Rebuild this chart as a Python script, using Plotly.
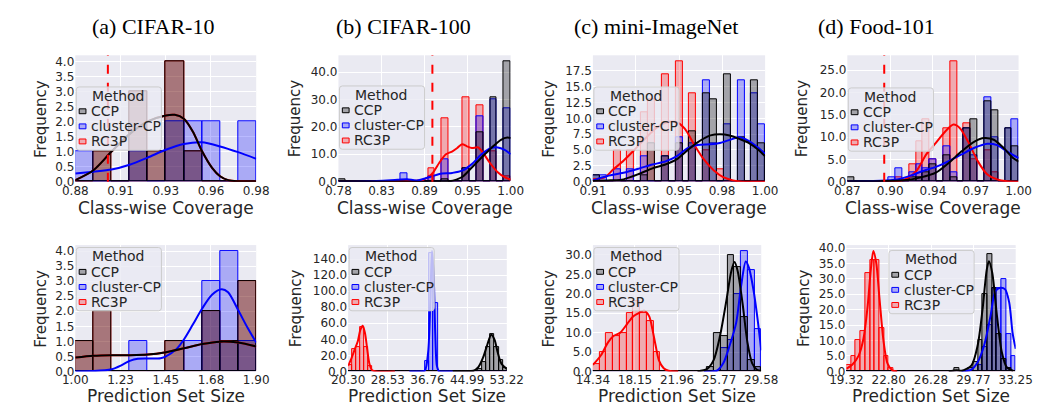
import numpy as np
import plotly.graph_objects as go

W, H = 1045, 411
METHODS = ["CCP", "cluster-CP", "RC3P"]
LINE = {"CCP": "#000000", "cluster-CP": "#0000ff", "RC3P": "#ff0000"}
FILL = {"CCP": "rgba(0,0,0,0.3)", "cluster-CP": "rgba(0,0,255,0.27)", "RC3P": "rgba(255,0,0,0.27)"}

panel_titles = ["(a) CIFAR-10", "(b) CIFAR-100", "(c) mini-ImageNet", "(d) Food-101"]

# ---------------- top row: class-wise coverage ----------------
cov_a_range = [0.88, 0.98]
cov_a_ticks = ["0.88", "0.91", "0.93", "0.96", "0.98"]
cov_a_ccp = [0, 1, 0, 3, 1, 4, 1, 0, 0, 0]
cov_a_clu = [1, 0, 0, 1, 0, 2, 2, 2, 0, 2]
cov_a_rc3p = [0, 1, 0, 3, 1, 4, 1, 0, 0, 0]
cov_a_kde_ccp_x = [0.880, 0.890, 0.900, 0.910, 0.920, 0.930, 0.935, 0.940, 0.945, 0.950, 0.9556, 0.960, 0.9645, 0.970, 0.975, 0.980]
cov_a_kde_ccp_y = [0.05, 0.38, 1.0, 1.58, 2.0, 2.2, 2.22, 2.09, 1.66, 1.02, 0.46, 0.18, 0.05, 0.01, 0.0, 0.0]
cov_a_kde_clu_x = [0.880, 0.890, 0.900, 0.910, 0.920, 0.930, 0.940, 0.950, 0.960, 0.970, 0.980]
cov_a_kde_clu_y = [0.27, 0.33, 0.40, 0.56, 0.80, 1.06, 1.25, 1.31, 1.17, 0.98, 0.76]
cov_a_kde_rc3p_x = cov_a_kde_ccp_x
cov_a_kde_rc3p_y = cov_a_kde_ccp_y
cov_a_target = 0.898

cov_b_range = [0.78, 1.00]
cov_b_ticks = ["0.78", "0.83", "0.89", "0.95", "1.00"]
cov_b_ccp = [1, 0, 0, 0, 0, 0, 0, 0, 0, 0, 0, 0, 0, 0, 0, 1, 0, 0, 5, 0, 18, 0, 31, 0, 44]
cov_b_clu = [0, 0, 0, 0, 0, 0, 0, 0, 0, 3, 0, 0, 0, 2, 0, 8, 0, 0, 5, 0, 24, 0, 30, 0, 27]
cov_b_rc3p = [0, 0, 0, 0, 0, 0, 0, 0, 0, 0, 0, 0, 0, 5, 0, 23, 0, 0, 31, 0, 28, 0, 11, 0, 2]
cov_b_kde_rc3p_x = [0.780, 0.818, 0.8594, 0.8677, 0.8883, 0.8995, 0.9090, 0.9173, 0.9256, 0.9318, 0.9380, 0.9442, 0.9504, 0.9587, 0.9648, 0.9731, 0.9835, 0.9917, 1.000]
cov_b_kde_rc3p_y = [0.0, 0.0, 0.05, 0.1, 0.7, 2.8, 7.0, 10.0, 11.1, 12.3, 13.7, 12.9, 12.3, 12.5, 10.5, 7.0, 3.4, 1.7, 0.7]
cov_b_kde_clu_x = [0.780, 0.818, 0.8553, 0.8677, 0.8801, 0.8966, 0.9090, 0.9256, 0.9380, 0.9504, 0.9628, 0.9752, 0.9835, 0.9917, 1.000]
cov_b_kde_clu_y = [0.0, 0.1, 0.7, 0.9, 0.4, 1.7, 2.8, 3.2, 4.0, 6.4, 10.0, 12.3, 12.5, 11.7, 10.0]
cov_b_kde_ccp_x = [0.780, 0.8594, 0.9214, 0.9380, 0.9504, 0.9628, 0.9752, 0.9876, 0.9959, 1.000]
cov_b_kde_ccp_y = [0.1, 0.0, 0.1, 1.7, 5.2, 8.8, 12.3, 15.3, 16.1, 15.9]
cov_b_target = 0.900

cov_c_range = [0.91, 1.00]
cov_c_ticks = ["0.91", "0.93", "0.95", "0.98", "1.00"]
cov_c_ccp = [1, 0, 0, 0, 0, 0, 0, 1, 6, 0, 4, 0, 6, 0, 8, 0, 14, 13, 0, 17, 0, 7, 0, 16, 6]
cov_c_clu = [1, 1, 0, 2, 0, 2, 0, 4, 0, 0, 4, 0, 7, 0, 6, 0, 16, 6, 0, 9, 0, 16, 0, 14, 9]
cov_c_rc3p = [0, 0, 0, 5, 0, 5, 0, 11, 13, 0, 17, 0, 19, 0, 14, 0, 5, 0, 2, 0, 0, 0, 0, 0, 0]
cov_c_kde_rc3p_x = [0.910, 0.9159, 0.9206, 0.9260, 0.9310, 0.9361, 0.9420, 0.9479, 0.9532, 0.9579, 0.9630, 0.9680, 0.9731, 0.9781, 0.9832, 0.9882, 1.000]
cov_c_kde_rc3p_y = [0.36, 0.62, 1.9, 3.3, 4.8, 6.4, 8.2, 9.3, 9.45, 8.4, 5.8, 3.5, 1.8, 0.7, 0.2, 0.0, 0.0]
cov_c_kde_ccp_x = [0.910, 0.9193, 0.9260, 0.9344, 0.9411, 0.9479, 0.9537, 0.9596, 0.9647, 0.9714, 0.9764, 0.9815, 0.9866, 0.9916, 0.9966, 1.000]
cov_c_kde_ccp_y = [0.1, 0.2, 0.36, 1.25, 2.1, 2.7, 3.5, 5.0, 6.2, 7.3, 7.5, 7.3, 6.75, 6.1, 5.0, 4.0]
cov_c_kde_clu_x = [0.910, 0.9176, 0.9260, 0.9344, 0.9411, 0.9479, 0.9537, 0.9596, 0.9647, 0.9714, 0.9764, 0.9815, 0.9866, 0.9916, 0.9966, 1.000]
cov_c_kde_clu_y = [0.2, 0.9, 1.4, 2.1, 2.7, 3.2, 4.0, 5.3, 5.8, 5.9, 6.1, 6.6, 7.0, 6.4, 5.3, 4.4]
cov_c_target = None

cov_d_range = [0.87, 1.00]
cov_d_ticks = ["0.87", "0.90", "0.94", "0.97", "1.00"]
cov_d_ccp = [1, 0, 0, 0, 0, 0, 0, 0, 0, 1, 1, 2, 4, 0, 6, 1, 0, 12, 14, 0, 18, 16, 0, 12, 8]
cov_d_clu = [0, 0, 0, 0, 0, 0, 1, 3, 0, 2, 4, 3, 5, 0, 8, 2, 0, 12, 6, 0, 19, 10, 0, 12, 14]
cov_d_rc3p = [0, 0, 0, 0, 0, 0, 0, 1, 0, 4, 9, 14, 5, 0, 12, 27, 0, 13, 5, 0, 7, 2, 0, 0, 0]
cov_d_kde_rc3p_x = [0.870, 0.9079, 0.9152, 0.9225, 0.9299, 0.9372, 0.9445, 0.9506, 0.9555, 0.9616, 0.9690, 0.9763, 0.9836, 0.9910, 1.000]
cov_d_kde_rc3p_y = [0.0, 0.07, 0.7, 2.4, 6.1, 8.7, 11.3, 12.8, 12.0, 9.0, 4.6, 1.6, 0.5, 0.07, 0.0]
cov_d_kde_ccp_x = [0.870, 0.9128, 0.9250, 0.9372, 0.9470, 0.9567, 0.9665, 0.9738, 0.9812, 0.9885, 0.9958, 1.000]
cov_d_kde_ccp_y = [0.05, 0.3, 0.9, 2.0, 4.2, 6.8, 9.0, 9.8, 9.4, 7.6, 5.3, 4.5]
cov_d_kde_clu_x = [0.870, 0.9079, 0.9176, 0.9274, 0.9372, 0.9470, 0.9567, 0.9665, 0.9763, 0.9836, 0.9910, 1.000]
cov_d_kde_clu_y = [0.0, 0.5, 1.3, 2.4, 3.3, 4.6, 6.1, 7.6, 8.5, 8.2, 6.8, 5.3]
cov_d_target = 0.898

# ---------------- bottom row: prediction set size ----------------
size_a_range = [1.00, 1.90]
size_a_ticks = ["1.00", "1.23", "1.45", "1.68", "1.90"]
size_a_ccp = [1, 2, 0, 0, 0, 1, 0, 2, 1, 3]
size_a_clu = [0, 0, 0, 1, 0, 0, 1, 3, 4, 1]
size_a_rc3p = [1, 2, 0, 0, 0, 1, 0, 2, 1, 3]
size_a_kde_ccp_x = [1.000, 1.090, 1.180, 1.271, 1.361, 1.451, 1.541, 1.631, 1.720, 1.810, 1.900]
size_a_kde_ccp_y = [0.46, 0.52, 0.54, 0.54, 0.56, 0.64, 0.77, 0.91, 0.99, 0.96, 0.83]
size_a_kde_clu_x = [1.000, 1.090, 1.180, 1.231, 1.271, 1.311, 1.361, 1.424, 1.451, 1.504, 1.541, 1.584, 1.631, 1.680, 1.728, 1.760, 1.810, 1.857, 1.900]
size_a_kde_clu_y = [0.0, 0.01, 0.07, 0.21, 0.35, 0.42, 0.43, 0.44, 0.50, 0.75, 1.07, 1.55, 2.09, 2.55, 2.73, 2.63, 2.04, 1.45, 0.96]
size_a_kde_rc3p_x = size_a_kde_ccp_x
size_a_kde_rc3p_y = size_a_kde_ccp_y

size_b_range = [20.30, 53.22]
size_b_ticks = ["20.30", "28.53", "36.76", "44.99", "53.22"]
size_b_ccp = [0, 0, 0, 0, 0, 0, 0, 0, 0, 0, 0, 0, 0, 0, 0, 0, 0, 0, 0, 0,
              0, 0, 0, 0, 0, 0, 0, 0, 0, 0, 0, 1, 3, 12, 30, 47, 30, 14, 4]
size_b_clu = [0, 0, 0, 0, 0, 0, 0, 0, 0, 0, 0, 0, 0, 0, 0, 0, 0, 0, 0, 13,
              148, 85, 1, 0, 0, 0, 0, 0, 0, 0, 0, 0, 0, 0, 0, 0, 0, 0, 0]
size_b_rc3p = [8, 28, 30, 55, 30, 7, 0, 0, 0, 0, 0, 0, 0, 0, 0, 0, 0, 0, 0, 0,
               0, 0, 0, 0, 0, 0, 0, 0, 0, 0, 0, 0, 0, 0, 0, 0, 0, 0, 0]
size_b_kde_rc3p_x = [20.30, 20.97, 21.64, 22.32, 22.85, 23.32, 23.79, 24.26, 24.73, 25.27, 26.14, 30.0]
size_b_kde_rc3p_y = [7.0, 16.0, 27.0, 38.0, 52.0, 57.0, 48.0, 27.5, 9.3, 1.6, 0.0, 0.0]
size_b_kde_clu_x = [33.0, 35.21, 36.22, 36.89, 37.36, 37.70, 38.04, 38.37, 38.71, 39.11, 39.92, 42.0]
size_b_kde_clu_y = [0.0, 0.0, 1.2, 23.5, 88.0, 150.0, 121.0, 48.0, 7.3, 0.5, 0.0, 0.0]
size_b_kde_ccp_x = [42.0, 44.62, 46.30, 47.31, 48.31, 49.19, 49.99, 50.67, 51.34, 52.14, 53.22]
size_b_kde_ccp_y = [0.0, 0.0, 0.8, 5.3, 17.4, 33.6, 45.7, 39.7, 23.5, 9.3, 3.2]

size_c_range = [14.34, 29.58]
size_c_ticks = ["14.34", "18.15", "21.96", "25.77", "29.58"]
size_c_ccp = [0, 0, 0, 0, 0, 0, 0, 0, 0, 0, 0, 0, 0, 0, 0, 0, 0, 1, 10, 9, 30, 27, 14, 3, 1]
size_c_clu = [0, 0, 0, 0, 0, 0, 0, 0, 0, 0, 0, 0, 0, 0, 0, 0, 0, 0, 0, 6, 8, 20, 31, 26, 11]
size_c_rc3p = [2, 5, 10, 9, 10, 15, 18, 15, 13, 5, 0, 0, 0, 0, 0, 0, 0, 0, 0, 0, 0, 0, 0, 0, 0]
size_c_kde_rc3p_x = [14.34, 15.07, 15.71, 16.23, 16.82, 17.40, 17.98, 18.57, 19.00, 19.44, 19.73, 20.02, 20.31, 20.75, 21.19, 22.06]
size_c_kde_rc3p_y = [1.67, 4.17, 7.5, 9.17, 10.0, 12.08, 14.17, 15.17, 15.67, 14.17, 10.83, 6.67, 2.92, 0.83, 0.17, 0.0]
size_c_kde_ccp_x = [23.81, 24.68, 25.27, 25.85, 26.43, 26.87, 27.16, 27.45, 27.89, 28.33, 28.76, 29.20, 29.58]
size_c_kde_ccp_y = [0.0, 0.67, 2.92, 9.17, 18.33, 25.83, 28.17, 25.83, 17.5, 7.5, 2.08, 0.42, 0.1]
size_c_kde_clu_x = [24.39, 25.56, 26.14, 26.72, 27.31, 27.74, 28.18, 28.47, 28.91, 29.29, 29.58]
size_c_kde_clu_y = [0.0, 0.17, 2.08, 6.67, 12.5, 21.67, 28.33, 26.67, 20.42, 12.5, 5.42]

size_d_range = [19.32, 33.25]
size_d_ticks = ["19.32", "22.80", "26.28", "29.77", "33.25"]
size_d_ccp = [0, 0, 0, 0, 0, 0, 0, 0, 0, 0, 0, 0, 0, 0, 0, 0, 0, 0, 0, 0,
              0, 0, 0, 1, 0, 0, 1, 3, 10, 25, 38, 27, 12, 4, 1, 0]
size_d_clu = [0, 0, 0, 0, 0, 0, 0, 0, 0, 0, 0, 0, 0, 0, 0, 0, 0, 0, 0, 0,
              0, 0, 0, 0, 0, 0, 0, 0, 2, 8, 15, 27, 27, 30, 12, 5]
size_d_rc3p = [2, 5, 10, 13, 32, 36, 36, 14, 5, 1, 0, 0, 0, 0, 0, 0, 0, 0, 0, 0,
               0, 0, 0, 0, 0, 0, 0, 0, 0, 0, 0, 0, 0, 0, 0, 0]
size_d_kde_rc3p_x = [19.32, 19.80, 20.33, 20.72, 21.07, 21.33, 21.54, 21.78, 22.05, 22.39, 22.71, 23.11, 23.50]
size_d_kde_rc3p_y = [0.86, 2.14, 5.14, 10.5, 21.2, 33.0, 39.0, 35.1, 23.4, 9.4, 2.5, 0.32, 0.0]
size_d_kde_ccp_x = [27.74, 28.40, 28.80, 29.60, 30.12, 30.52, 30.87, 31.05, 31.32, 31.71, 32.11, 32.51, 33.04]
size_d_kde_ccp_y = [0.0, 0.4, 0.2, 1.9, 8.4, 20.0, 33.0, 35.7, 32.0, 18.0, 6.2, 1.4, 0.2]
size_d_kde_clu_x = [28.80, 29.60, 30.12, 30.65, 31.18, 31.58, 31.98, 32.38, 32.72, 32.99, 33.25]
size_d_kde_clu_y = [0.0, 0.6, 3.0, 8.4, 18.0, 26.0, 27.1, 26.6, 22.3, 12.6, 7.3]

# ---------------- panel assembly ----------------
panels = [
    dict(rng=cov_a_range, ticks=cov_a_ticks, dtick=0.5, xt="Class-wise Coverage", target=cov_a_target,
         bars={"CCP": cov_a_ccp, "cluster-CP": cov_a_clu, "RC3P": cov_a_rc3p},
         kde={"CCP": (cov_a_kde_ccp_x, cov_a_kde_ccp_y), "cluster-CP": (cov_a_kde_clu_x, cov_a_kde_clu_y), "RC3P": (cov_a_kde_rc3p_x, cov_a_kde_rc3p_y)}),
    dict(rng=cov_b_range, ticks=cov_b_ticks, dtick=10, xt="Class-wise Coverage", target=cov_b_target,
         bars={"CCP": cov_b_ccp, "cluster-CP": cov_b_clu, "RC3P": cov_b_rc3p},
         kde={"CCP": (cov_b_kde_ccp_x, cov_b_kde_ccp_y), "cluster-CP": (cov_b_kde_clu_x, cov_b_kde_clu_y), "RC3P": (cov_b_kde_rc3p_x, cov_b_kde_rc3p_y)}),
    dict(rng=cov_c_range, ticks=cov_c_ticks, dtick=2.5, xt="Class-wise Coverage", target=cov_c_target,
         bars={"CCP": cov_c_ccp, "cluster-CP": cov_c_clu, "RC3P": cov_c_rc3p},
         kde={"CCP": (cov_c_kde_ccp_x, cov_c_kde_ccp_y), "cluster-CP": (cov_c_kde_clu_x, cov_c_kde_clu_y), "RC3P": (cov_c_kde_rc3p_x, cov_c_kde_rc3p_y)}),
    dict(rng=cov_d_range, ticks=cov_d_ticks, dtick=5, xt="Class-wise Coverage", target=cov_d_target,
         bars={"CCP": cov_d_ccp, "cluster-CP": cov_d_clu, "RC3P": cov_d_rc3p},
         kde={"CCP": (cov_d_kde_ccp_x, cov_d_kde_ccp_y), "cluster-CP": (cov_d_kde_clu_x, cov_d_kde_clu_y), "RC3P": (cov_d_kde_rc3p_x, cov_d_kde_rc3p_y)}),
    dict(rng=size_a_range, ticks=size_a_ticks, dtick=0.5, xt="Prediction Set Size", target=None,
         bars={"CCP": size_a_ccp, "cluster-CP": size_a_clu, "RC3P": size_a_rc3p},
         kde={"CCP": (size_a_kde_ccp_x, size_a_kde_ccp_y), "cluster-CP": (size_a_kde_clu_x, size_a_kde_clu_y), "RC3P": (size_a_kde_rc3p_x, size_a_kde_rc3p_y)}),
    dict(rng=size_b_range, ticks=size_b_ticks, dtick=20, xt="Prediction Set Size", target=None,
         bars={"CCP": size_b_ccp, "cluster-CP": size_b_clu, "RC3P": size_b_rc3p},
         kde={"CCP": (size_b_kde_ccp_x, size_b_kde_ccp_y), "cluster-CP": (size_b_kde_clu_x, size_b_kde_clu_y), "RC3P": (size_b_kde_rc3p_x, size_b_kde_rc3p_y)}),
    dict(rng=size_c_range, ticks=size_c_ticks, dtick=5, xt="Prediction Set Size", target=None,
         bars={"CCP": size_c_ccp, "cluster-CP": size_c_clu, "RC3P": size_c_rc3p},
         kde={"CCP": (size_c_kde_ccp_x, size_c_kde_ccp_y), "cluster-CP": (size_c_kde_clu_x, size_c_kde_clu_y), "RC3P": (size_c_kde_rc3p_x, size_c_kde_rc3p_y)}),
    dict(rng=size_d_range, ticks=size_d_ticks, dtick=5, xt="Prediction Set Size", target=None,
         bars={"CCP": size_d_ccp, "cluster-CP": size_d_clu, "RC3P": size_d_rc3p},
         kde={"CCP": (size_d_kde_ccp_x, size_d_kde_ccp_y), "cluster-CP": (size_d_kde_clu_x, size_d_kde_clu_y), "RC3P": (size_d_kde_rc3p_x, size_d_kde_rc3p_y)}),
]

# layout geometry (pixels)
x_px = [(52, 239), (324, 502), (587, 765), (850, 1027), (52, 239), (334, 498), (587, 761), (849, 1024)]
y_px = [(174.3, 44.5)] * 4 + [(369.3, 239.5)] * 4
legend_px = [(53, 77), (325, 76), (588, 77), (851, 78), (53, 242), (335, 242), (588, 242), (893, 245)]
ytitle_cx = [17, 280, 542, 804, 17, 280, 542, 805]
xtitle_cy = [201] * 4 + [395] * 4
title_cx = [132, 391, 652, 880]

TXT = "#262626"
FONT = "DejaVu Sans, Verdana, sans-serif"


def rounded_box(x0, y0, x1, y1, r=3):
    """SVG path (paper coords) of a rounded rectangle given in pixels."""
    def P(px, py):
        return f"{px / W:.6f},{1 - py / H:.6f}"
    return (f"M {P(x0 + r, y0)} L {P(x1 - r, y0)} Q {P(x1, y0)} {P(x1, y0 + r)} "
            f"L {P(x1, y1 - r)} Q {P(x1, y1)} {P(x1 - r, y1)} L {P(x0 + r, y1)} "
            f"Q {P(x0, y1)} {P(x0, y1 - r)} L {P(x0, y0 + r)} Q {P(x0, y0)} {P(x0 + r, y0)} Z")


fig = go.Figure()
layout = {}
shapes = []
annotations = []

for i, p in enumerate(panels):
    n = i + 1
    xa, ya = ("x" if n == 1 else f"x{n}"), ("y" if n == 1 else f"y{n}")
    lo, hi = p["rng"]
    nb = len(p["bars"]["CCP"])
    edges = np.linspace(lo, hi, nb + 1)
    centers = (edges[:-1] + edges[1:]) / 2
    width = edges[1] - edges[0]
    ymax = 0
    for m in ["RC3P", "cluster-CP", "CCP"]:
        counts = np.array(p["bars"][m], dtype=float)
        ymax = max(ymax, counts.max(), max(p["kde"][m][1]))
        fig.add_trace(go.Bar(x=centers, y=counts, width=width, xaxis=xa, yaxis=ya, name=m,
                             marker=dict(color=FILL[m], line=dict(color=LINE[m], width=1)),
                             showlegend=False, hoverinfo="skip"))
    for m in ["RC3P", "cluster-CP", "CCP"]:
        kx, ky = p["kde"][m]
        fig.add_trace(go.Scatter(x=kx, y=ky, mode="lines", xaxis=xa, yaxis=ya, name=m,
                                 line=dict(color=LINE[m], width=2, shape="spline", smoothing=0.8),
                                 showlegend=False, hoverinfo="skip", cliponaxis=True))
    x0, x1 = x_px[i]
    yb, yt = y_px[i]
    layout[("xaxis" if n == 1 else f"xaxis{n}")] = dict(
        domain=[x0 / W, x1 / W], anchor=ya, range=[lo, hi],
        tickvals=list(np.linspace(lo, hi, 5)), ticktext=p["ticks"],
        showgrid=True, gridcolor="white", gridwidth=1, zeroline=False, showline=False, ticks="",
        tickfont=dict(size=12, color=TXT, family=FONT),
    )
    layout[("yaxis" if n == 1 else f"yaxis{n}")] = dict(
        domain=[1 - yb / H, 1 - yt / H], anchor=xa, range=[0, ymax * 1.05],
        dtick=p["dtick"], tick0=0, tickformat=".1f",
        showgrid=True, gridcolor="white", gridwidth=1, zeroline=False, showline=False, ticks="",
        tickfont=dict(size=12, color=TXT, family=FONT),
    )
    # axis titles
    annotations.append(dict(xref="paper", yref="paper", x=(x0 + x1) / 2 / W, y=1 - xtitle_cy[i] / H,
                            text=p["xt"], showarrow=False, xanchor="center", yanchor="middle",
                            font=dict(size=17, color=TXT, family=FONT)))
    annotations.append(dict(xref="paper", yref="paper", x=ytitle_cx[i] / W, y=1 - (yb + yt) / 2 / H,
                            text="Frequency", showarrow=False, xanchor="center", yanchor="middle",
                            textangle=-90, font=dict(size=15, color=TXT, family=FONT)))
    if p["target"] is not None:
        shapes.append(dict(type="line", xref=xa, yref=f"{ya} domain", x0=p["target"], x1=p["target"],
                           y0=0, y1=1, line=dict(color="red", width=2, dash="dash"), layer="above"))
    # legend (drawn inside each axes)
    lx, ly = legend_px[i]
    lw, lh = 88, 65
    shapes.append(dict(type="path", xref="paper", yref="paper", path=rounded_box(lx, ly, lx + lw, ly + lh),
                       fillcolor="rgba(234,234,242,0.8)", line=dict(color="rgba(204,204,204,1)", width=1),
                       layer="above"))
    annotations.append(dict(xref="paper", yref="paper", x=(lx + lw / 2) / W, y=1 - (ly + 9) / H,
                            text="Method", showarrow=False, xanchor="center", yanchor="middle",
                            font=dict(size=14, color=TXT, family=FONT)))
    for j, m in enumerate(METHODS):
        cy = ly + 25 + j * 15.5
        shapes.append(dict(type="rect", xref="paper", yref="paper", x0=(lx + 3) / W, x1=(lx + 10) / W,
                           y0=1 - (cy + 2.5) / H, y1=1 - (cy - 2.5) / H, fillcolor=FILL[m],
                           line=dict(color=LINE[m], width=1), layer="above"))
        annotations.append(dict(xref="paper", yref="paper", x=(lx + 13) / W, y=1 - cy / H,
                                text=m, showarrow=False, xanchor="left", yanchor="middle",
                                font=dict(size=14, color=TXT, family=FONT)))

for k, t in enumerate(panel_titles):
    annotations.append(dict(xref="paper", yref="paper", x=title_cx[k] / W, y=1 - 15 / H, text=t,
                            showarrow=False, xanchor="center", yanchor="middle",
                            font=dict(size=22, color="black", family="Liberation Serif, Times New Roman, serif")))

fig.update_layout(
    width=W, height=H, margin=dict(l=0, r=0, t=0, b=0),
    paper_bgcolor="white", plot_bgcolor="#EAEAF2", barmode="overlay", bargap=0,
    showlegend=False, shapes=shapes, annotations=annotations, **layout,
)
fig.write_html("out.html")
